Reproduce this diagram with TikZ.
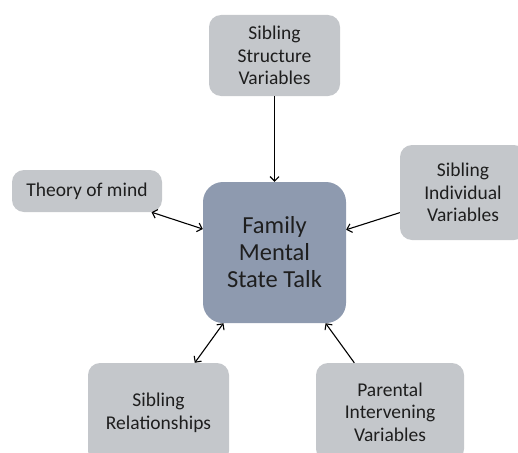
\documentclass[tikz,border=0pt]{standalone}
\usepackage{fontspec}
\setmainfont{Carlito}
\usetikzlibrary{arrows.meta}
\definecolor{boxgray}{RGB}{196,199,203}
\definecolor{boxblue}{RGB}{142,154,175}
\definecolor{txt}{RGB}{30,30,30}
\tikzset{
  outer/.style={draw=none, fill=boxgray, rounded corners=12pt, align=center, text=txt,
    font=\fontsize{19.5}{22.5}\selectfont, inner sep=0pt},
  core/.style={draw=none, fill=boxblue, rounded corners=20pt, align=center, text=txt,
    font=\fontsize{24.5}{27}\selectfont, inner sep=0pt},
  conn/.style={line width=1.1pt, black, arrows={-Straight Barb[length=4.5pt,width=9pt]}},
  bconn/.style={line width=1.1pt, black, arrows={Straight Barb[length=4.5pt,width=9pt]-Straight Barb[length=4.5pt,width=9pt]}}
}
\begin{document}
\begin{tikzpicture}[x=1pt,y=-1pt]
\useasboundingbox (0,0) rectangle (518,452);
\clip (0,0) rectangle (518,452);
\node[core, minimum width=143pt, minimum height=141pt] (fam) at (274.5,252.5) {Family\\Mental\\State Talk};
\node[outer, minimum width=131pt, minimum height=81pt] (struct) at (274.5,55.5) {Sibling\\Structure\\Variables};
\node[outer, minimum width=150pt, minimum height=42pt] (tom) at (87,191) {Theory of mind};
\node[outer, minimum width=126pt, minimum height=95pt] (indiv) at (463,192.5) {Sibling\\Individual\\Variables};
\node[outer, minimum width=141pt, minimum height=100pt] (rel) at (158.5,413) {Sibling\\Relationships};
\node[outer, minimum width=148pt, minimum height=98pt] (par) at (390,412) {Parental\\Intervening\\Variables};
\draw[conn] (struct) -- (fam);
\draw[bconn] (tom) -- (fam);
\draw[conn] (indiv) -- (fam);
\draw[bconn] (rel) -- (fam);
\draw[conn] (par) -- (fam);
\end{tikzpicture}
\end{document}
